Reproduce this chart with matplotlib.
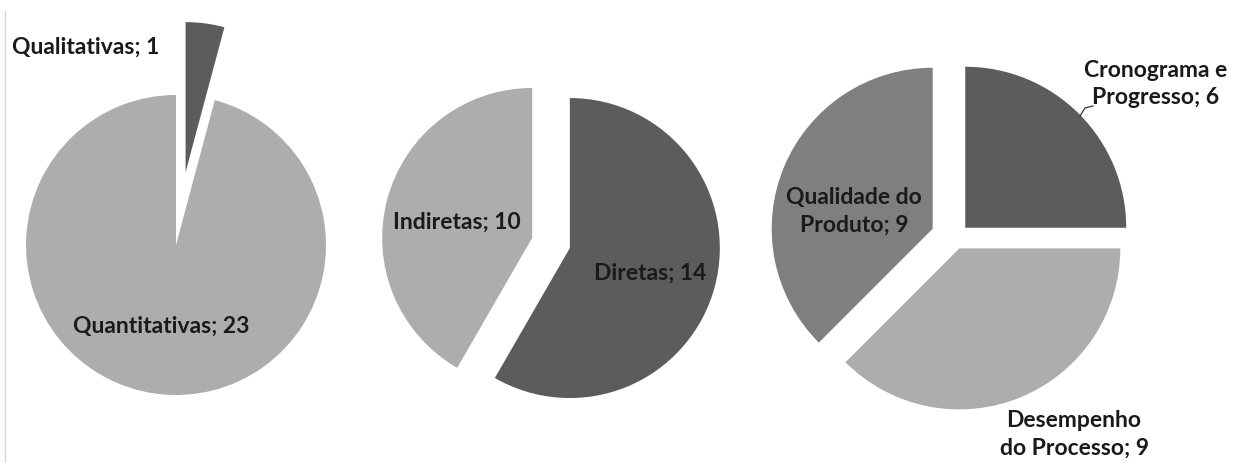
import matplotlib

matplotlib.use("Agg")
import matplotlib.pyplot as plt

# data
tipo_labels = ["Qualitativas", "Quantitativas"]
tipo_values = [1, 23]

fonte_labels = ["Diretas", "Indiretas"]
fonte_values = [14, 10]

area_labels = ["Cronograma e\nProgresso", "Desempenho\ndo Processo", "Qualidade do\nProduto"]
area_values = [6, 9, 9]

W, H = 1241, 464
LIGHT = "#adadad"
MID = "#7f7f7f"
DARK = "#5c5c5c"
TXT = "#1a1a1a"

plt.rcParams["font.family"] = ["Lato", "DejaVu Sans"]

fig = plt.figure(figsize=(W / 100, H / 100), dpi=100, facecolor="white")


def pie_axes(cx, cy, r, span=1.7):
    # axes centred on (cx, cy) px where one data unit equals r px
    ax = fig.add_axes([(cx - span * r) / W, (H - cy - span * r) / H,
                       2 * span * r / W, 2 * span * r / H])
    return ax, span


def finish(ax, span):
    ax.set_xlim(-span, span)
    ax.set_ylim(-span, span)
    ax.set_aspect("equal")
    ax.axis("off")


ax1, s1 = pie_axes(176, 246, 150)
ax1.pie(tipo_values, colors=[DARK, LIGHT], startangle=90, counterclock=False,
        explode=[0.49, 0.0], wedgeprops=dict(linewidth=0))
finish(ax1, s1)

ax2, s2 = pie_axes(551, 244, 150)
ax2.pie(fonte_values, colors=[DARK, LIGHT], startangle=90, counterclock=False,
        explode=[0.13, 0.13], wedgeprops=dict(linewidth=0))
finish(ax2, s2)

ax3, s3 = pie_axes(955, 239, 161)
ax3.pie(area_values, colors=[DARK, LIGHT, MID], startangle=90, counterclock=False,
        explode=[0.09, 0.07, 0.15], wedgeprops=dict(linewidth=0))
finish(ax3, s3)


def label(x, y, s, ha="center"):
    fig.text(x / W, 1 - y / H, s, ha=ha, va="center", fontsize=16.5,
             fontweight="bold", color=TXT, linespacing=1.4)


label(12, 47, f"{tipo_labels[0]}; {tipo_values[0]}", ha="left")
label(161, 326, f"{tipo_labels[1]}; {tipo_values[1]}")
label(457, 222, f"{fonte_labels[1]}; {fonte_values[1]}")
label(650, 273, f"{fonte_labels[0]}; {fonte_values[0]}")
label(1156, 84, f"{area_labels[0]}; {area_values[0]}")
label(1074, 434, f"{area_labels[1]}; {area_values[1]}")
label(854, 211, f"{area_labels[2]}; {area_values[2]}")

# leader line for the Cronograma label
fig.add_artist(plt.Line2D([1080 / W, 1085 / W, 1093 / W],
                          [1 - 117 / H, 1 - 109 / H, 1 - 107 / H],
                          color="#333333", linewidth=0.9))

# faint frame edge on the left
fig.add_artist(plt.Line2D([5 / W, 5 / W], [0, 1 - 12 / H], color="#d4d4d4", linewidth=1))

fig.savefig("out.png", dpi=100, facecolor="white")
